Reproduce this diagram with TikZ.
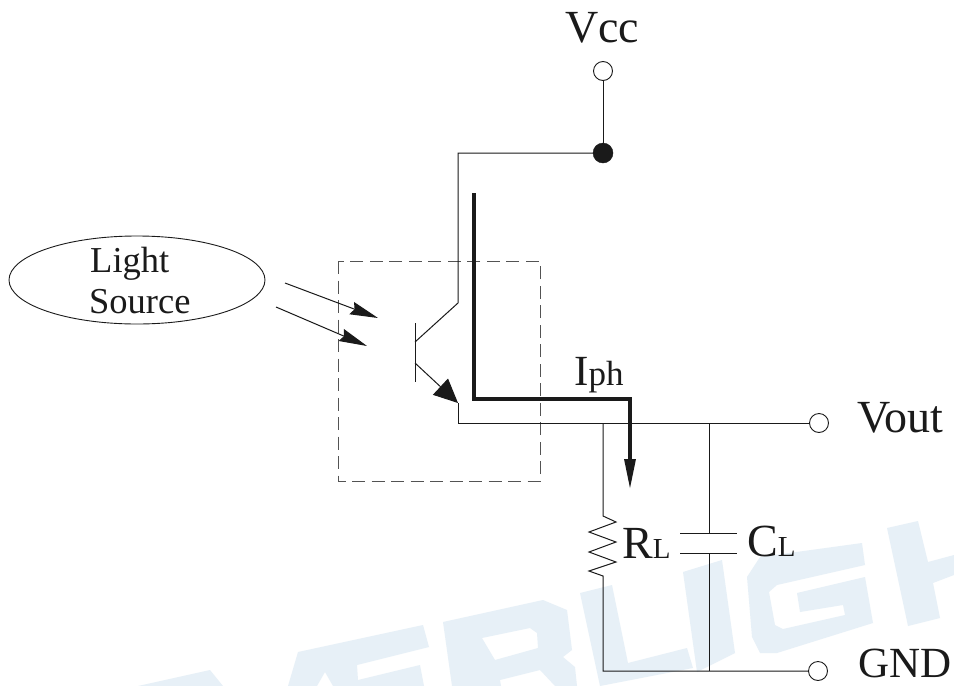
\documentclass[tikz,border=0pt]{standalone}
\usepackage{fontspec}
\setmainfont{Liberation Serif}
\usetikzlibrary{arrows.meta,shapes.geometric}
\definecolor{wm}{HTML}{E7F0F7}
\definecolor{ink}{HTML}{1A1A1A}
\newcommand{\fs}[1]{\fontsize{#1}{#1}\selectfont}
\tikzset{
  x=1pt,y=-1pt,
  wire/.style={draw=ink,line width=1pt,line join=miter},
  thickwire/.style={draw=ink,line width=3.2pt,line join=miter},
  terminal/.style={circle,draw=ink,line width=0.9pt,fill=white,minimum size=19pt,inner sep=0pt},
  dot/.style={circle,fill=ink,draw=ink,minimum size=20pt,inner sep=0pt},
  watermark/.style={fill=wm,draw=none,even odd rule},
  lab/.style={anchor=base west,inner sep=0pt,text=ink},
  ray/.style={wire,-{Stealth[length=28pt,width=13pt,inset=3pt]}},
  bigtip/.style={-{Triangle[length=30pt,width=11pt]}},
}
\begin{document}
\begin{tikzpicture}
\useasboundingbox (0,0) rectangle (954,686);
\fill[white] (0,0) rectangle (954,686);
% watermark shapes
\fill[watermark] (210,670)--(138,686)--(223,686)--cycle;
\fill[watermark] (298,652)--(423,625)--(429,647)--(357,665)--(358,680)--(420,665)--(424,686)--(333,686)--(325,672)--(317,686)--(288,686)--cycle;
\fill[watermark] (443,622)--(543,600)--(567,610)--(572,650)--(563,657)--(575,667)--(577,686)--(452,686)--cycle
  (482,638)--(530,628)--(537,633)--(538,648)--(495,660)--cycle
  (500,680)--(540,670)--(555,686)--(501,686)--cycle;
\fill[watermark] (580,593)--(612,585)--(628,663)--(687,648)--(693,668)--(600,686)--cycle;
\fill[watermark] (683,572)--(722,560)--(735,653)--(697,672)--cycle;
\fill[watermark] (747,577)--(760,557)--(862,543)--(865,565)--(777,585)--(769,592)--(775,625)--(783,629)--(845,615)--(843,605)--(800,612)--(797,593)--(865,577)--(873,623)--(777,653)--(760,653)--(752,637)--cycle;
\fill[watermark] (887,528)--(918,521)--(928,562)--(954,555)--(954,575)--(933,583)--(940,618)--(908,626)--cycle;

% light source
\node[ellipse,draw=ink,line width=0.9pt,minimum width=256pt,minimum height=88pt,inner sep=0pt] (src) at (137,280) {};
\node[lab,font=\fs{36.5}] (light) at (90,272) {Light};
\node[lab,font=\fs{36.5}] (source) at (89,313) {Source};

% dashed package
\draw[draw=ink!75,line width=1pt,dash pattern=on 13pt off 6.5pt] (338,261) rectangle (540,481);

% light rays
\coordinate (r1s) at (285,283); \coordinate (r1e) at (378,318);
\coordinate (r2s) at (276,307); \coordinate (r2e) at (367,346);
\draw[ray] (r1s) -- (r1e);
\draw[ray] (r2s) -- (r2e);

% terminals
\node[terminal] (vcc) at (603,71) {};
\node[dot] (vccdot) at (603,153) {};
\node[terminal] (vout) at (819,423) {};
\node[terminal] (gnd) at (818,671) {};

% transistor
\coordinate (bt) at (415,323); \coordinate (bb) at (415,382);
\coordinate (cb) at (415,342); \coordinate (ck) at (458,303);
\coordinate (ct) at (458,153);
\coordinate (eb) at (415,363); \coordinate (et) at (458,403);
\coordinate (eo) at (458,423);
\draw[wire] (bt) -- (bb);
\draw[wire] (vcc) -- (vccdot);
\draw[wire] (vccdot) -- (ct) -- (ck) -- (cb);
\draw[wire,-{Triangle[length=24pt,width=22pt]}] (eb) -- (et);
\draw[wire] (et) -- (eo) -- (vout);

% load resistor
\coordinate (rt) at (603,423); \coordinate (rb) at (603,671);
\draw[wire] (rt) -- (603,516) -- (616,522) -- (589,532) -- (616,542) -- (589,552) -- (616,562) -- (589,571) -- (603,576) -- (rb) -- (gnd);

% load capacitor
\coordinate (ct1) at (709,423); \coordinate (cp1) at (709,533);
\coordinate (cp2) at (709,553); \coordinate (cb1) at (709,671);
\coordinate (p1l) at (680,533); \coordinate (p1r) at (737,533);
\coordinate (p2l) at (680,553); \coordinate (p2r) at (737,553);
\draw[wire] (ct1) -- (cp1);
\draw[wire] (cp2) -- (cb1);
\draw[wire] (p1l) -- (p1r);
\draw[wire] (p2l) -- (p2r);

% photocurrent path
\coordinate (is) at (474,193); \coordinate (ic1) at (474,399);
\coordinate (ic2) at (630,399); \coordinate (ie) at (630,489);
\draw[thickwire,bigtip] (is) -- (ic1) -- (ic2) -- (ie);

% labels
\node[lab,font=\fs{46}] (lvcc) at (565,42) {Vcc};
\node[lab,font=\fs{46}] (lvout) at (857,432) {Vout};
\node[lab,font=\fs{43}] (lgnd) at (858,677) {GND};
\node[lab,font=\fs{43}] (liph) at (574,385) {I{\fs{35}ph}};
\node[lab,font=\fs{46}] (lrl) at (622,558) {R{\fs{29}L}};
\node[lab,font=\fs{46}] (lcl) at (747,556) {C{\fs{29}L}};
\end{tikzpicture}
\end{document}
